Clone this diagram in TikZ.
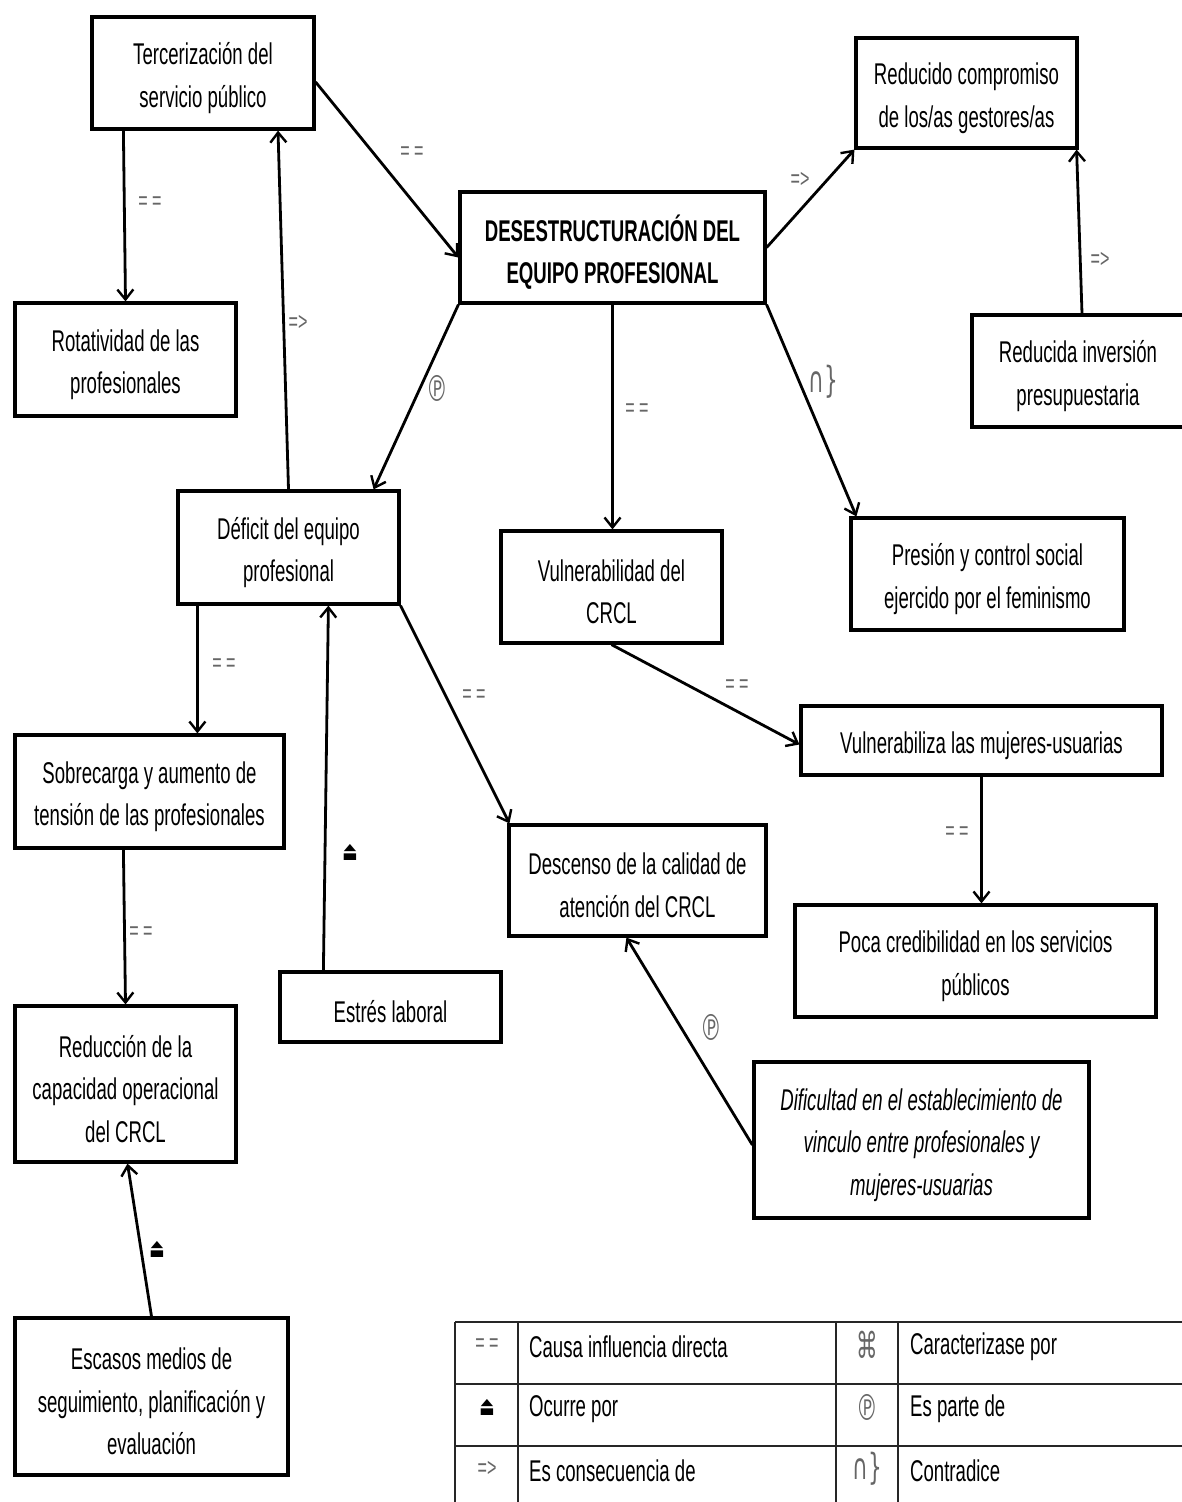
\documentclass[tikz,border=0pt]{standalone}
\usepackage{fontspec}
\setmainfont{Liberation Sans}[FakeStretch=0.62]
\newfontfamily\symfont{DejaVu Sans}[FakeStretch=0.6]
\usetikzlibrary{arrows.meta,calc}

% a framed concept: frame node plus its text node, slightly below centre
% #1 text options, #2 name, #3 #4 centre, #5 width, #6 height, #7 text
\newcommand\conceptbox[7][]{%
  \node[box, minimum width=#5pt, minimum height=#6pt] (#2) at (#3,#4) {};
  \node[boxtext, #1] (#2-text) at ([yshift=-5pt]#2.center) {#7};
}

\begin{document}
\begin{tikzpicture}[x=1pt,y=-1pt,
  box/.style={draw, line width=3.2pt, inner sep=0pt},
  boxtext/.style={align=center, inner sep=0pt, font=\fontsize{30}{42.5}\selectfont},
  link/.style={line width=2.8pt,
    -{Straight Barb[length=10pt,width=16pt,line width=2.4pt]}},
  rel/.style={text=black!60, font=\fontsize{26}{28}\selectfont, inner sep=1pt},
  relsym/.style={text=black!60, font=\symfont\fontsize{27}{30}\selectfont, inner sep=1pt},
  bigsym/.style={relsym, font=\symfont\fontsize{36}{38}\selectfont},
  legline/.style={line width=2.2pt, black!85},
  legtxt/.style={anchor=west, inner sep=0pt, font=\fontsize{30}{36}\selectfont},
]
\useasboundingbox (0,0) rectangle (1182,1502);
\fill[white] (0,0) rectangle (1182,1502);

% concept boxes
\conceptbox{terc}{203}{73}{222}{112}{Tercerización del\\servicio público}
\conceptbox[font=\bfseries\fontsize{30}{42}\selectfont]{dese}{612.5}{247.5}{305}{111}
  {DESESTRUCTURACIÓN DEL\\EQUIPO PROFESIONAL}
\conceptbox{red}{966.5}{93}{221}{110}{Reducido compromiso\\de los/as gestores/as}
\conceptbox{rot}{125.5}{359.5}{221}{113}{Rotatividad de las\\profesionales}
\conceptbox{inv}{1078}{371}{212}{112}{Reducida inversión\\presupuestaria}
\conceptbox{def}{288.5}{547.5}{221}{113}{Déficit del equipo\\profesional}
\conceptbox{vul}{611.5}{587}{221}{112}{Vulnerabilidad del\\CRCL}
\conceptbox{pres}{987.5}{574}{273}{112}{Presión y control social\\ejercido por el feminismo}
\conceptbox{vulz}{981.5}{740.5}{361}{69}{Vulnerabiliza las mujeres-usuarias}
\conceptbox{sob}{149.5}{791.5}{269}{113}{Sobrecarga y aumento de\\tensión de las profesionales}
\conceptbox{desc}{637.5}{880.5}{257}{111}{Descenso de la calidad de\\atención del CRCL}
\conceptbox{poca}{975.5}{961}{361}{112}{Poca credibilidad en los servicios\\públicos}
\conceptbox{est}{390.5}{1007}{221}{70}{Estrés laboral}
\conceptbox{reduc}{125.5}{1084}{221}{156}{Reducción de la\\capacidad operacional\\del CRCL}
\conceptbox[font=\itshape\fontsize{30}{42.5}\selectfont]{dif}{921.5}{1140}{335}{156}
  {Dificultad en el establecimiento de\\vinculo entre profesionales y\\mujeres-usuarias}
\conceptbox{esc}{151.5}{1396.5}{273}{157}{Escasos medios de\\seguimiento, planificación y\\evaluación}

% connectors
\draw[link] ([yshift=-9pt]terc.east) -- ([yshift=-10pt]dese.west);
\draw[link] ([xshift=33pt]terc.south west) -- (rot.north);
\draw[link] (def.north) -- ([xshift=75pt]terc.south);
\draw[link] (dese.east) -- (red.south west);
\draw[link] ([xshift=4pt]inv.north) -- ([xshift=-2pt]red.south east);
\draw[link] (dese.south west) -- ([xshift=-27pt]def.north east);
\draw[link] (dese.south) -- (dese.south |- vul.north);
\draw[link] (dese.south east) -- ([xshift=7pt]pres.north west);
\draw[link] (vul.south) -- ([yshift=-4pt]vulz.west);
\draw[link] (vulz.south) -- (vulz.south |- poca.north);
\draw[link] ([xshift=21pt]def.south west) -- ([xshift=184pt]sob.north west);
\draw[link] (def.south east) -- ([xshift=2pt]desc.north west);
\draw[link] ([xshift=45pt]est.north west) -- ([xshift=152pt]def.south west);
\draw[link] ([xshift=110pt]sob.south west) -- (reduc.north);
\draw[link] (esc.north) -- ([xshift=2pt]reduc.south);
\draw[link] ([yshift=-5pt]dif.west) -- ([xshift=119pt]desc.south west);

% relation labels
\node[rel] (l1) at (412,153) {= =};
\node[rel] (l2) at (150,203) {= =};
\node[rel] (l3) at (298,323) {=>};
\node[rel] (l4) at (800,180) {=>};
\node[rel] (l5) at (1100,260) {=>};
\node[bigsym] (l6) at (437,388) {℗};
\node[bigsym] (l8) at (823,382) {∩\}};
\node[rel] (l7) at (637,410) {= =};
\node[rel] (l9) at (737,686) {= =};
\node[rel] (l10) at (957,833) {= =};
\node[rel] (l11) at (224,665) {= =};
\node[rel] (l12) at (474,696) {= =};
\node[relsym, text=black] (l13) at (350,852) {⏏};
\node[rel] (l14) at (141,933) {= =};
\node[relsym, text=black] (l15) at (157,1249) {⏏};
\node[bigsym] (l16) at (711,1027) {℗};

% legend table
\draw[legline] (455,1322) -- (1182,1322);
\draw[legline] (455,1384) -- (1182,1384);
\draw[legline] (455,1446) -- (1182,1446);
\foreach \xx in {455,518,836,898} \draw[legline] (\xx,1322) -- (\xx,1502);

\node[rel] (s1) at (487,1345) {= =};
\node[relsym, text=black] (s2) at (487,1407) {⏏};
\node[rel] (s3) at (487,1469) {=>};
\node[bigsym] (s4) at (867,1345) {⌘};
\node[bigsym] (s5) at (867,1407) {℗};
\node[bigsym] (s6) at (867,1469) {∩\}};

\node[legtxt] (t1) at (529,1347) {Causa influencia directa};
\node[legtxt] (t2) at (529,1409) {Ocurre por};
\node[legtxt] (t3) at (529,1471) {Es consecuencia de};
\node[legtxt] (t4) at (910,1347) {Caracterizase por};
\node[legtxt] (t5) at (910,1409) {Es parte de};
\node[legtxt] (t6) at (910,1471) {Contradice};
\end{tikzpicture}
\end{document}
